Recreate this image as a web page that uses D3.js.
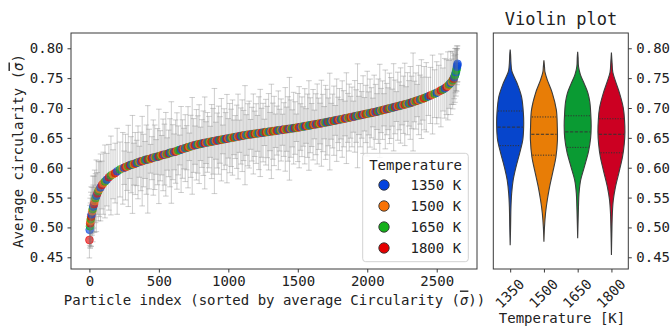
<!DOCTYPE html>
<html>
<head>
<meta charset="utf-8">
<script src="https://cdn.jsdelivr.net/npm/d3@7"></script>
<style>
  html, body { margin: 0; padding: 0; background: #fff; }
  svg { display: block; }
  text { font-family: "DejaVu Sans Mono", monospace; fill: #222; }
</style>
</head>
<body>
<svg id="chart" width="671" height="329"></svg>
<script>
// ---------------- DATA ----------------
const temperatures = ["1350", "1500", "1650", "1800"];
const legendColors = ["#0343df", "#f97306", "#15b01a", "#e50000"];
const violinColors = ["#0645cc", "#e87d06", "#0a9b33", "#cc0022"];

const yTicks = [0.45, 0.50, 0.55, 0.60, 0.65, 0.70, 0.75, 0.80];
const xTicks = [0, 500, 1000, 1500, 2000, 2500];

// particle index (sorted by average circularity)
const particleIdx = [
  0,2,4,6,8,10,13,16,20,24,
  28,33,38,44,50,57,64,72,80,90,
  100,112,125,140,155,170,185,200,220,240,
  250,260,270,280,290,300,310,320,330,340,
  350,360,370,380,390,400,410,420,430,440,
  450,460,470,480,490,500,510,520,530,540,
  550,560,570,580,590,600,610,620,630,640,
  650,660,670,680,690,700,710,720,730,740,
  750,760,770,780,790,800,810,820,830,840,
  850,860,870,880,890,900,910,920,930,940,
  950,960,970,980,990,1000,1010,1020,1030,1040,
  1050,1060,1070,1080,1090,1100,1110,1120,1130,1140,
  1150,1160,1170,1180,1190,1200,1210,1220,1230,1240,
  1250,1260,1270,1280,1290,1300,1310,1320,1330,1340,
  1350,1360,1370,1380,1390,1400,1410,1420,1430,1440,
  1450,1460,1470,1480,1490,1500,1510,1520,1530,1540,
  1550,1560,1570,1580,1590,1600,1610,1620,1630,1640,
  1650,1660,1670,1680,1690,1700,1710,1720,1730,1740,
  1750,1760,1770,1780,1790,1800,1810,1820,1830,1840,
  1850,1860,1870,1880,1890,1900,1910,1920,1930,1940,
  1950,1960,1970,1980,1990,2000,2010,2020,2030,2040,
  2050,2060,2070,2080,2090,2100,2110,2120,2130,2140,
  2150,2160,2170,2180,2190,2200,2210,2220,2230,2240,
  2250,2260,2270,2280,2290,2300,2310,2320,2330,2340,
  2350,2360,2370,2380,2390,2400,2410,
  2425,2440,2455,2470,2485,2500,2515,2530,2545,2558,
  2570,2580,2590,2600,2608,2615,2621,2626,2631,2635,
  2638,2641,2644,2646,2648,2650
];
// average circularity of each particle
const avgCircularity = [
  .479,.496,.502,.507,.511,.514,.518,.522,.527,.531,
  .535,.539,.544,.549,.553,.557,.561,.564,.567,.571,
  .574,.577,.580,.584,.587,.589,.591,.594,.597,.599,
  .600,.601,.602,.603,.604,.605,.6055,.606,.607,.608,
  .609,.610,.6105,.611,.612,.613,.6135,.614,.6145,.615,
  .616,.617,.6175,.618,.6185,.619,.620,.621,.6215,.622,
  .6225,.623,.624,.625,.6255,.626,.6265,.627,.628,.629,
  .6297,.6305,.6313,.632,.6328,.6335,.6343,.635,.6358,.6366,
  .6372,.6378,.6384,.639,.6395,.640,.6405,.641,.6415,.642,
  .6424,.6429,.6434,.6438,.6443,.6447,.6452,.6456,.6461,.6465,
  .6469,.6474,.6478,.6483,.6487,.6492,.6496,.650,.6505,.6509,
  .6513,.6518,.6522,.6527,.6531,.6536,.654,.6545,.6548,.6552,
  .6555,.6558,.6562,.6565,.6568,.6572,.6575,.6578,.6582,.6585,
  .6588,.6592,.6595,.6598,.6602,.6605,.6608,.6612,.6615,.6619,
  .6622,.6626,.6629,.6632,.6636,.6639,.6642,.6645,.6649,.6652,
  .6655,.6659,.6662,.6665,.6669,.6673,.6678,.6682,.6686,.669,
  .6694,.6699,.6703,.6707,.6711,.6715,.672,.6724,.6728,.6732,
  .6736,.674,.6745,.6749,.6754,.6759,.6763,.6768,.6773,.6778,
  .6782,.6787,.6792,.6796,.6801,.6806,.6811,.6815,.682,.6825,
  .683,.6835,.684,.6845,.685,.6855,.686,.6865,.687,.6875,
  .688,.6885,.689,.6895,.690,.6905,.691,.6915,.692,.6925,
  .693,.6935,.694,.6946,.6952,.6958,.6964,.697,.6976,.6982,
  .6988,.6994,.700,.7006,.7012,.7018,.7024,.703,.7036,.7042,
  .7048,.7054,.706,.7066,.7072,.7078,.7085,.7093,.7101,.7109,
  .7117,.7125,.7133,.7141,.7149,.7157,.7165,
  .718,.7195,.721,.7225,.724,.7255,.7275,.7295,.731,.733,
  .735,.737,.7395,.742,.744,.7465,.749,.7515,.7545,.7575,
  .760,.763,.766,.769,.7715,.774
];
// standard deviation (error bar half-length) of each particle
const circularityStd = [
  .030,.026,.035,.042,.030,.045,.050,.032,.040,.055,
  .036,.047,.052,.041,.060,.035,.050,.046,.056,.040,
  .052,.061,.044,.055,.066,.041,.050,.072,.046,.060,
  .028,.055,.040,.068,.022,.047,.082,.035,.052,.038,
  .061,.026,.049,.075,.044,.031,.058,.090,.050,.024,
  .036,.063,.054,.029,.047,.079,.042,.033,.060,.051,
  .070,.027,.039,.057,.085,.046,.030,.053,.064,.041,
  .025,.072,.049,.034,.056,.037,.068,.023,.052,.081,
  .045,.032,.059,.048,.066,.028,.040,.054,.077,.035,
  .050,.043,.026,.062,.055,.088,.031,.046,.057,.039,
  .069,.024,.051,.044,.074,.033,.058,.048,.063,.029,
  .036,.053,.071,.027,.047,.060,.042,.083,.034,.052,
  .056,.025,.045,.067,.038,.050,.030,.061,.073,.041,
  .049,.022,.055,.043,.064,.032,.079,.047,.058,.028,
  .041,.066,.035,.052,.026,.045,.070,.037,.054,.086,
  .048,.031,.060,.044,.023,.057,.068,.039,.050,.033,
  .063,.029,.053,.075,.046,.036,.059,.024,.051,.067,
  .043,.034,.072,.048,.027,.062,.055,.040,.081,.030,
  .045,.058,.025,.069,.038,.052,.033,.064,.047,.029,
  .076,.041,.056,.035,.050,.026,.060,.044,.087,.032,
  .053,.039,.065,.028,.048,.071,.036,.057,.042,.024,
  .062,.046,.030,.054,.078,.037,.049,.027,.066,.043,
  .035,.059,.051,.031,.073,.045,.025,.057,.040,.063,
  .033,.048,.069,.029,.052,.038,.061,.044,.082,.034,
  .047,.027,.058,.041,.066,.036,.053,
  .058,.032,.047,.066,.040,.052,.044,.061,.036,.050,
  .046,.057,.040,.053,.038,.048,.043,.036,.045,.032,
  .040,.034,.038,.030,.028,.030
];
// temperature group of each particle (index into temperatures)
const pointTemp = [
  3,0,2,3,1,2,3,0,1,2,
  0,3,1,2,0,3,2,1,0,3,
  1,2,0,3,2,1,3,0,2,1,
  0,3,1,2,3,0,2,1,3,0,
  2,1,0,3,1,2,0,3,2,1,
  3,0,1,2,0,3,2,1,3,0,
  1,2,3,0,2,1,0,3,1,2,
  2,0,3,1,0,2,3,1,2,0,
  1,3,0,2,1,3,2,0,3,1,
  0,2,1,3,2,0,1,3,0,2,
  3,1,2,0,3,1,0,2,1,3,
  2,0,1,3,0,2,3,1,0,2,
  1,3,0,2,3,1,2,0,1,3,
  0,2,3,1,2,0,1,3,2,1,
  3,0,2,1,0,3,1,2,3,0,
  1,2,0,3,2,1,3,0,1,2,
  0,3,1,2,0,2,3,1,0,3,
  2,1,3,0,1,2,0,3,2,0,
  1,3,2,0,3,1,0,2,1,3,
  0,1,2,3,1,0,3,2,0,1,
  2,3,0,1,3,2,1,0,2,3,
  1,0,3,2,0,1,2,3,1,0,
  3,2,1,0,2,3,0,1,3,2,
  0,1,3,2,1,0,2,3,0,1,
  2,3,1,0,2,1,3,
  2,0,3,1,2,0,1,3,2,0,
  3,1,2,0,1,2,3,0,2,2,
  0,2,2,0,0,0
];

// violin density profiles: [circularity, relative half-width]
const violin1350 = [[0.470,0],[0.50,0.03],[0.535,0.06],[0.557,0.11],[0.579,0.22],[0.602,0.44],[0.624,0.70],[0.646,0.93],[0.669,1.0],[0.691,0.98],[0.719,0.84],[0.741,0.52],[0.752,0.30],[0.762,0.12],[0.775,0.06],[0.79,0.03],[0.798,0]];
const violin1500 = [[0.476,0],[0.50,0.04],[0.524,0.12],[0.546,0.25],[0.568,0.42],[0.596,0.69],[0.618,0.89],[0.646,1.0],[0.669,0.99],[0.697,0.92],[0.725,0.62],[0.747,0.25],[0.76,0.08],[0.77,0.04],[0.780,0]];
const violin1650 = [[0.482,0],[0.51,0.03],[0.535,0.06],[0.557,0.10],[0.579,0.22],[0.602,0.50],[0.627,0.80],[0.65,0.96],[0.67,1.0],[0.69,0.97],[0.71,0.90],[0.725,0.76],[0.74,0.50],[0.756,0.20],[0.77,0.06],[0.785,0.03],[0.794,0]];
const violin1800 = [[0.454,0],[0.49,0.03],[0.524,0.07],[0.546,0.14],[0.568,0.30],[0.596,0.60],[0.618,0.82],[0.64,0.95],[0.66,1.0],[0.68,0.97],[0.70,0.88],[0.725,0.60],[0.745,0.30],[0.76,0.10],[0.775,0.05],[0.793,0]];
const violinQuartiles = [[0.637,0.668,0.695],[0.621,0.656,0.685],[0.634,0.660,0.687],[0.625,0.656,0.682]];

// ---------------- DRAW ----------------
const svg = d3.select("#chart");
svg.append("rect").attr("width",671).attr("height",329).attr("fill","#fff");

const L = {x0:71, x1:477, y0:33, y1:269};
const R = {x0:493.3, x1:628.3, y0:33, y1:269};
const frameColor = "#3a3a3a";

const x = d3.scaleLinear().domain([-132.5, 2790]).range([L.x0, L.x1]);
const y = d3.scaleLinear().domain([0.4304, 0.8256]).range([L.y1, L.y0]);
const xv = d3.scaleLinear().domain([-0.5, 3.5]).range([R.x0, R.x1]);

// ----- left scatter with error bars
const gL = svg.append("g");
const n = Math.min(particleIdx.length, avgCircularity.length, circularityStd.length, pointTemp.length);
const pts = d3.range(n).map(i => ({p:particleIdx[i], v:avgCircularity[i], s:circularityStd[i], t:pointTemp[i]}));
const capW = 2.8;
const barColor = "#8a8a8a";

function drawBar(g, d, op){
  const cx = x(d.p);
  g.append("line").attr("x1",cx).attr("x2",cx).attr("y1",y(d.v - d.s)).attr("y2",y(d.v + d.s))
    .attr("stroke",barColor).attr("stroke-opacity",op).attr("stroke-width",1);
  [d.v - d.s, d.v + d.s].forEach(e => {
    g.append("line").attr("x1",cx-capW).attr("x2",cx+capW).attr("y1",y(e)).attr("y2",y(e))
      .attr("stroke",barColor).attr("stroke-opacity",op).attr("stroke-width",1);
  });
}
pts.forEach(d => drawBar(gL, d, 0.27));
pts.forEach(d => {
  gL.append("circle").attr("cx",x(d.p)).attr("cy",y(d.v)).attr("r",3.9)
    .attr("fill",legendColors[d.t]).attr("fill-opacity",0.62)
    .attr("stroke",legendColors[d.t]).attr("stroke-opacity",0.8).attr("stroke-width",0.7);
});
// overlapping error bars drawn over the marker band
pts.forEach(d => drawBar(gL, d, 0.18));

// left frame
svg.append("rect").attr("x",L.x0).attr("y",L.y0).attr("width",L.x1-L.x0).attr("height",L.y1-L.y0)
  .attr("fill","none").attr("stroke",frameColor).attr("stroke-width",1);

function styleAxis(g){
  g.select(".domain").remove();
  g.selectAll(".tick line").attr("stroke",frameColor).attr("stroke-width",1);
  g.selectAll(".tick text").style("font-family","'DejaVu Sans Mono', monospace").style("font-size","14px").attr("fill","#222");
}
const yAxisL = svg.append("g").attr("transform",`translate(${L.x0},0)`)
  .call(d3.axisLeft(y).tickValues(yTicks).tickFormat(d3.format(".2f")).tickSize(3.5).tickPadding(4));
styleAxis(yAxisL);
const xAxisL = svg.append("g").attr("transform",`translate(0,${L.y1})`)
  .call(d3.axisBottom(x).tickValues(xTicks).tickFormat(d3.format("d")).tickSize(3.5).tickPadding(3.5));
styleAxis(xAxisL);

function sigmaBar(sel){
  sel.append("tspan").style("font-style","italic").style("text-decoration","overline").text("σ");
}
const xl = svg.append("text").attr("x",(L.x0+L.x1)/2 + 0.5).attr("y",304.5).attr("text-anchor","middle")
  .style("font-size","14px");
xl.append("tspan").text("Particle index (sorted by average Circularity (");
sigmaBar(xl);
xl.append("tspan").text("))");
const yl = svg.append("text").attr("transform","translate(22.5,151) rotate(-90)").attr("text-anchor","middle")
  .style("font-size","14px");
yl.append("tspan").text("Average circularity (");
sigmaBar(yl);
yl.append("tspan").text(")");

// legend
const lg = svg.append("g");
lg.append("rect").attr("x",362.7).attr("y",153.3).attr("width",105.6).attr("height",108.4).attr("rx",3)
  .attr("fill","#fff").attr("fill-opacity",0.85).attr("stroke","#d2d2d2").attr("stroke-width",1);
lg.append("text").attr("x",415.5).attr("y",169.5).attr("text-anchor","middle").style("font-size","14px").text("Temperature");
temperatures.forEach((t,i) => {
  const cy = 185 + i*21;
  lg.append("circle").attr("cx",384).attr("cy",cy).attr("r",5.2).attr("fill",legendColors[i])
    .attr("stroke","#333").attr("stroke-width",0.9);
  lg.append("text").attr("x",410.5).attr("y",cy+5).style("font-size","14px").text(t + " K");
});

// ----- right violin plot
const violins = [violin1350, violin1500, violin1650, violin1800];
const halfW = (xv(0.4) - xv(0));
violins.forEach((prof,i) => {
  const cx = xv(i);
  const area = d3.area()
    .y(d => y(d[0]))
    .x0(d => cx - d[1]*halfW)
    .x1(d => cx + d[1]*halfW)
    .curve(d3.curveCatmullRom.alpha(0.5));
  svg.append("path").attr("d",area(prof)).attr("fill",violinColors[i])
    .attr("stroke","#3c3c3c").attr("stroke-width",1.1);
  const wAt = v => {
    for (let k=0;k<prof.length-1;k++){
      if (v>=prof[k][0] && v<=prof[k+1][0]) {
        const f=(v-prof[k][0])/(prof[k+1][0]-prof[k][0]);
        return prof[k][1]+(prof[k+1][1]-prof[k][1])*f;
      }
    }
    return 0;
  };
  violinQuartiles[i].forEach((q,k) => {
    const w = wAt(q)*halfW - 0.8;
    svg.append("line").attr("x1",cx-w).attr("x2",cx+w).attr("y1",y(q)).attr("y2",y(q))
      .attr("stroke","#333").attr("stroke-width",1)
      .attr("stroke-dasharray", k===1 ? "3.2,1.6" : "1.2,1.4");
  });
});
svg.append("rect").attr("x",R.x0).attr("y",R.y0).attr("width",R.x1-R.x0).attr("height",R.y1-R.y0)
  .attr("fill","none").attr("stroke",frameColor).attr("stroke-width",1);

const yAxisR = svg.append("g").attr("transform",`translate(${R.x1},0)`)
  .call(d3.axisRight(y).tickValues(yTicks).tickFormat(d3.format(".2f")).tickSize(3.5).tickPadding(4.5));
styleAxis(yAxisR);
const xAxisR = svg.append("g").attr("transform",`translate(0,${R.y1})`)
  .call(d3.axisBottom(xv).tickValues([0,1,2,3]).tickFormat(i => temperatures[i]).tickSize(3.5));
styleAxis(xAxisR);
xAxisR.selectAll(".tick text")
  .attr("y",0).attr("dy",0)
  .attr("text-anchor","middle").attr("dominant-baseline","central")
  .attr("transform","translate(-1,24.5) rotate(-45)");

svg.append("text").attr("x",561).attr("y",24.5).attr("text-anchor","middle").style("font-size","17px").text("Violin plot");
svg.append("text").attr("x",562).attr("y",323).attr("text-anchor","middle").style("font-size","14px").text("Temperature [K]");
</script>
</body>
</html>
